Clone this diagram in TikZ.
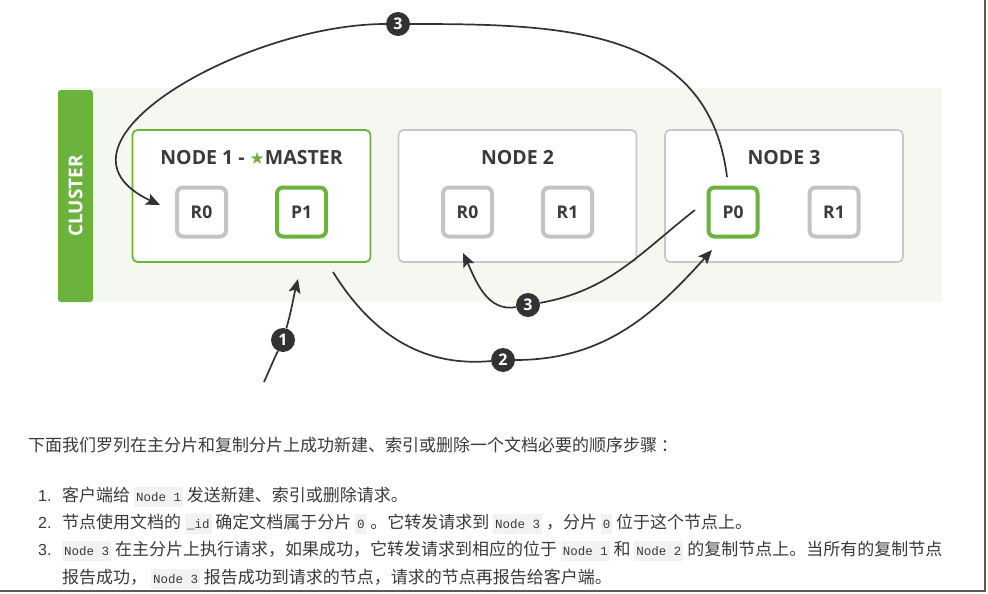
\documentclass[tikz,border=0pt]{standalone}
\usepackage{fontspec}
\setmainfont{Liberation Sans}
\newfontfamily\labelfont{Open Sans}
\newfontfamily\cjk{Noto Sans CJK SC}
\newfontfamily\codefont{Liberation Mono}
\newfontfamily\symfont{DejaVu Sans}
\definecolor{elgreen}{RGB}{108,178,62}
\definecolor{boxgray}{RGB}{200,200,200}
\definecolor{shardgray}{RGB}{196,196,196}
\definecolor{textdark}{RGB}{58,58,58}
\definecolor{clusterbg}{RGB}{244,248,241}
\definecolor{badgedark}{RGB}{48,50,51}
\definecolor{codebg}{RGB}{242,242,242}
\definecolor{framegray}{RGB}{90,90,90}
\usetikzlibrary{arrows.meta,positioning,calc}
\newcommand{\code}[1]{{\setlength{\fboxsep}{2pt}\colorbox{codebg}{\codefont\fontsize{12.5}{13}\selectfont\rule[-4pt]{0pt}{16pt}#1}}}
\tikzset{
	nodebox/.style={
		draw=boxgray, line width=1.8pt, rounded corners=5pt, fill=white,
		minimum width=238pt, minimum height=132pt
	},
	masterbox/.style={nodebox, draw=elgreen},
	title/.style={font=\labelfont\bfseries\fontsize{19.5}{21}\selectfont, text=textdark},
	shard/.style={
		draw=shardgray, line width=4pt, rounded corners=6pt, fill=white,
		minimum size=49pt, inner sep=0pt, text=textdark,
		font=\labelfont\bfseries\fontsize{17.5}{18}\selectfont
	},
	primary/.style={shard, draw=elgreen},
	badge/.style={
		circle, fill=badgedark, text=white, inner sep=0pt, minimum size=24pt,
		font=\labelfont\bfseries\fontsize{16}{16}\selectfont
	},
	flow/.style={-{Stealth[length=14pt,width=12pt,inset=3pt]}, line width=1.7pt, draw=badgedark},
	para/.style={anchor=base west, inner sep=0pt, text=textdark,
		font=\cjk\fontsize{17}{20}\selectfont},
	num/.style={anchor=base west, inner sep=0pt, text=textdark,
		font=\fontsize{16}{20}\selectfont}
}

\begin{document}
\begin{tikzpicture}[x=1pt,y=1pt]
	\useasboundingbox (0,0) rectangle (988,-594);
	\fill[white] (0,0) rectangle (988,-594);
	% cluster
	\fill[clusterbg] (58,-88) rectangle (942,-302);
	\fill[elgreen, rounded corners=3pt] (58,-90) rectangle (93,-302);
	\node[rotate=90, text=white, font=\labelfont\bfseries\fontsize{19}{20}\selectfont] (cluster) at (75.5,-196) {CLUSTER};
	% nodes
	\node[masterbox] (node1) at (251.5,-196) {};
	\node[nodebox]   (node2) at (517.5,-196) {};
	\node[nodebox]   (node3) at (784,-196) {};
	\node[title] (title1) at ($(node1.center)+(0,38)$) {NODE 1 - {\color{elgreen}\symfont\fontsize{17}{17}\selectfont ★}MASTER};
	\node[title] (title2) at ($(node2.center)+(0,38)$) {NODE 2};
	\node[title] (title3) at ($(node3.center)+(0,38)$) {NODE 3};
	% shards
	\node[shard]   (r0a) at ($(node1.center)+(-50,-16)$) {R0};
	\node[primary] (p1)  at ($(node1.center)+(50,-16)$)  {P1};
	\node[shard]   (r0b) at ($(node2.center)+(-50,-16)$) {R0};
	\node[shard]   (r1b) at ($(node2.center)+(50,-16)$)  {R1};
	\node[primary] (p0)  at ($(node3.center)+(-51,-16)$) {P0};
	\node[shard]   (r1c) at ($(node3.center)+(50,-16)$)  {R1};
	% steps
	\node[badge] (step1)  at (283,-340) {1};
	\node[badge] (step2)  at (503,-360) {2};
	\node[badge] (step3a) at (398,-24)  {3};
	\node[badge] (step3b) at (528,-305) {3};
	\coordinate (client) at (264,-382);
	\coordinate (in1)    at (298,-279);
	\coordinate (out2)   at (333,-272);
	\coordinate (in2)    at (712,-250);
	\coordinate (out3a)  at (727,-177);
	\coordinate (in3a)   at (160,-205);
	\coordinate (out3b)  at (695,-210);
	\coordinate (in3b)   at (463,-253);
	\draw[line width=1.7pt, draw=badgedark] (client) to[out=66, in=245] (step1);
	\draw[flow] (step1) to[out=74, in=256] (in1);
	\draw[line width=1.7pt, draw=badgedark] (out2) to[out=-58, in=185] (step2);
	\draw[flow] (step2) to[out=0, in=228] (in2);
	\draw[line width=1.7pt, draw=badgedark] (out3a) to[out=97, in=0, looseness=1.1] (step3a);
	\draw[flow] (step3a) to[out=180, in=155, looseness=1.25] (in3a);
	\draw[line width=1.7pt, draw=badgedark] (out3b) to[out=218, in=10] (step3b);
	\draw[flow] (step3b) to[out=190, in=295] (in3b);
	% text
	\node[para] (intro) at (28,-451) {下面我们罗列在主分片和复制分片上成功新建、索引或删除一个文档必要的顺序步骤\ ：};
	\node[num]  (num1) at (38,-501) {1.};
	\node[para] (item1) at (62,-501) {客户端给 \code{Node 1} 发送新建、索引或删除请求。};
	\node[num]  (num2) at (38,-528) {2.};
	\node[para] (item2) at (62,-528) {节点使用文档的 \code{\_id} 确定文档属于分片 \code{0} 。它转发请求到 \code{Node 3} ，分片 \code{0} 位于这个节点上。};
	\node[num]  (num3) at (38,-555) {3.};
	\node[para] (item3) at (62,-555) {\code{Node 3} 在主分片上执行请求，如果成功，它转发请求到相应的位于 \code{Node 1} 和 \code{Node 2} 的复制节点上。当所有的复制节点};
	\node[para] (item3b) at (62,-583) {报告成功， \code{Node 3} 报告成功到请求的节点，请求的节点再报告给客户端。};
	% frame
	\draw[line width=2.5pt, framegray] (985,0) -- (985,-591) -- (0,-591);
\end{tikzpicture}
\end{document}
